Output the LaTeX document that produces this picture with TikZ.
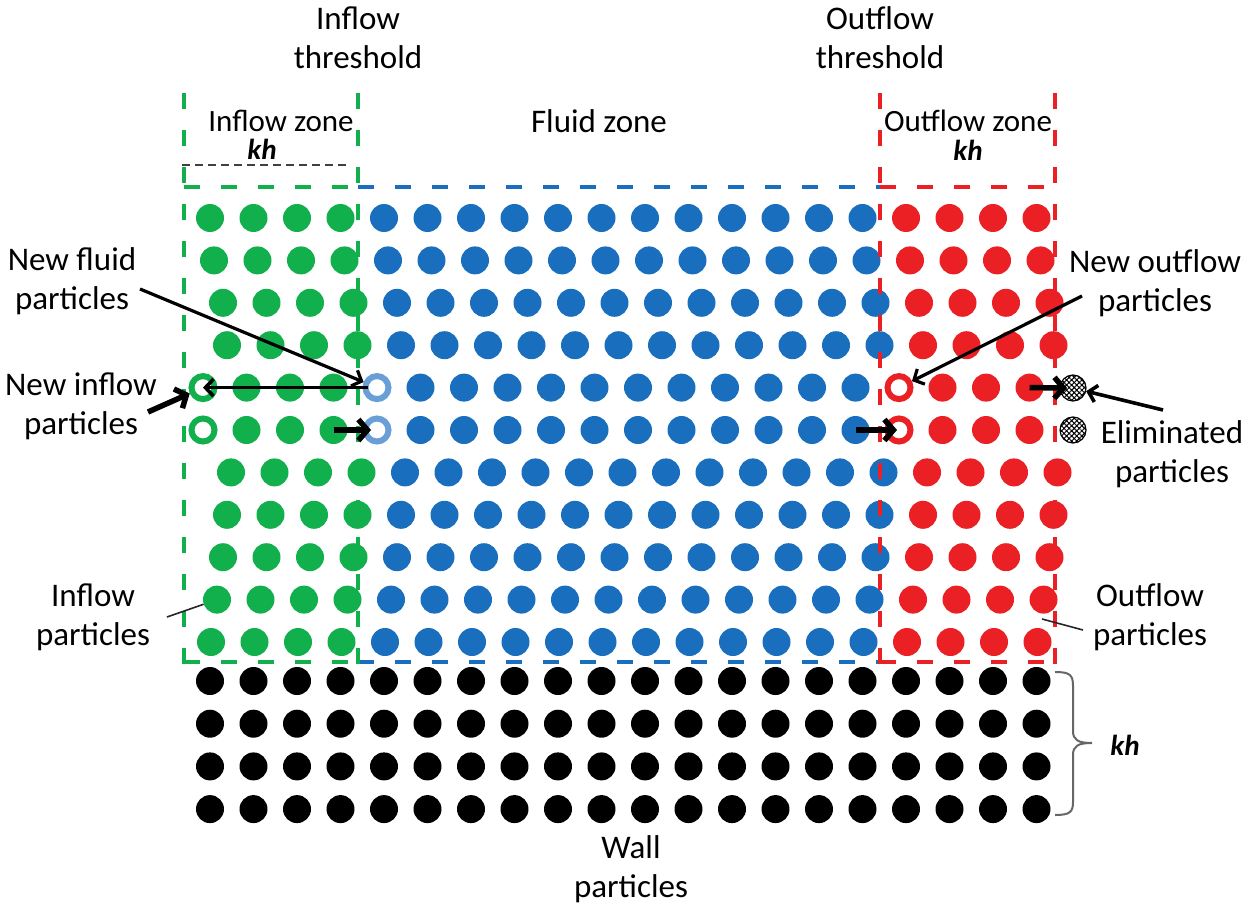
\documentclass[tikz,border=0pt]{standalone}
\usepackage{fontspec}
\setmainfont{Carlito}
\usetikzlibrary{arrows.meta,patterns.meta}
\definecolor{gz}{RGB}{18,176,76}
\definecolor{bz}{RGB}{26,110,190}
\definecolor{rz}{RGB}{234,32,36}
\definecolor{lb}{RGB}{105,158,215}
\begin{document}
\begin{tikzpicture}[x=1pt,y=-1pt,
  part/.style={circle,inner sep=0pt,minimum size=28pt},
  gp/.style={part,fill=gz},
  bp/.style={part,fill=bz},
  rp/.style={part,fill=rz},
  wp/.style={part,fill=black},
  hollow/.style={circle,inner sep=0pt,minimum size=23pt,line width=6pt,fill=white},
  gh/.style={hollow,draw=gz},
  bh/.style={hollow,draw=lb},
  rh/.style={hollow,draw=rz},
  elimp/.style={circle,inner sep=0pt,minimum size=26pt,draw=black,line width=1.2pt,
    pattern={Hatch[angle=45,distance=3.6pt,line width=1pt]},pattern color=black},
  lab/.style={align=center,inner sep=0pt,font=\fontsize{33}{39}\selectfont},
  zlab/.style={align=center,inner sep=0pt,font=\fontsize{31}{37}\selectfont},
  khs/.style={inner sep=0pt,font=\fontsize{29}{33}\selectfont\bfseries\itshape},
  zone/.style={line width=3.5pt,dash pattern=on 16pt off 21pt},
  thinarr/.style={line width=3.2pt,-{Straight Barb[length=8pt,width=17pt]}},
  midarr/.style={line width=3.6pt,-{Straight Barb[length=8pt,width=17pt]}},
  thickarr/.style={line width=5.5pt,-{Straight Barb[length=9pt,width=21pt]}},
  leader/.style={line width=1.6pt,black!85},
  brc/.style={line width=2pt,black!60}
]
\useasboundingbox (0,0) rectangle (1250,912);

% fluid / inflow / outflow particles
\foreach \r/\dx in {1/0,2/4,3/13,4/17,5/-7,6/-7,7/21,8/17,9/13,10/7,11/1}{
  \foreach \c in {0,...,19}{
    \ifnum\c<4 \def\st{gp}\else\ifnum\c<16 \def\st{bp}\else\def\st{rp}\fi\fi
    \ifnum\r>4 \ifnum\r<7
      \ifnum\c=0 \def\st{gh}\fi
      \ifnum\c=4 \def\st{bh}\fi
      \ifnum\c=16 \def\st{rh}\fi
    \fi\fi
    \node[\st] (p-\r-\c) at ({210+43.5*\c+\dx},{218+42.4*(\r-1)}) {};
  }
}
% wall particles
\foreach \r in {0,...,3}{
  \foreach \c in {0,...,19}{
    \node[wp] (w-\r-\c) at ({210+43.5*\c},{681+42.7*\r}) {};
  }
}
% eliminated particles
\node[elimp] (e1) at (1073,388) {};
\node[elimp] (e2) at (1073,430) {};

% zone borders
\draw[zone,draw=bz] (358,187) -- (880,187);
\draw[zone,draw=bz] (358,662) -- (880,662);
\draw[zone,draw=gz] (184,93) -- (184,664);
\draw[zone,draw=gz] (358,93) -- (358,664);
\draw[zone,draw=gz] (184,187) -- (358,187);
\draw[zone,draw=gz] (184,662) -- (358,662);
\draw[zone,draw=rz] (880,93) -- (880,664);
\draw[zone,draw=rz] (1055,93) -- (1055,664);
\draw[zone,draw=rz] (880,187) -- (1055,187);
\draw[zone,draw=rz] (880,662) -- (1055,662);
\draw[line width=1.5pt,black!75,dash pattern=on 8pt off 5pt] (182,165) -- (346,165);

% labels
\node[lab] (ith) at (358,38) {Inflow\\threshold};
\node[lab] (oth) at (880,38) {Outflow\\threshold};
\node[zlab] (izl) at (281,121) {Inflow zone};
\node[khs] (kh1) at (262,149) {kh};
\node[lab] (fzl) at (599,121) {Fluid zone};
\node[zlab] (ozl) at (968,121) {Outflow zone};
\node[khs] (kh2) at (968,150) {kh};
\node[lab] (nfp) at (72,281) {New fluid\\particles};
\node[lab] (nip) at (81,406) {New inflow\\particles};
\node[lab] (nop) at (1155,283) {New outflow\\particles};
\node[lab] (elim) at (1172,454) {Eliminated\\particles};
\node[lab] (ipl) at (93,617) {Inflow\\particles};
\node[lab] (opl) at (1150,617) {Outflow\\particles};
\node[khs] (kh3) at (1125,745) {kh};
\node[lab] (wpl) at (631,869) {Wall\\particles};

% free ends of connectors
\coordinate (t-nfp) at (140,289);
\coordinate (t-nip) at (148,412);
\coordinate (t-nop) at (1082,296);
\coordinate (t-elim) at (1163,410);
\coordinate (t-ipl) at (167,617);
\coordinate (t-opa) at (1042,619);
\coordinate (t-opb) at (1083,630);

% connectors
\draw[thinarr] (t-nfp) -- (p-5-4);
\draw[midarr] ([xshift=-9pt]p-5-4.center) -- (p-5-0.center);
\draw[thickarr] (t-nip) -- (p-5-0);
\draw[thickarr] (p-6-3.center) -- ([xshift=-6pt]p-6-4.center);
\draw[thinarr] (t-nop) -- (p-5-16);
\draw[thickarr] (p-6-15.center) -- ([xshift=-2pt]p-6-16.center);
\draw[thickarr] (p-5-19.center) -- ([xshift=-6pt]e1.center);
\draw[midarr] (t-elim) -- (e1);
\draw[leader] (t-ipl) -- (p-10-0);
\draw[leader] (t-opa) -- (t-opb);

% brace
\draw[brc] (1055,672) .. controls (1070,672) and (1073,675) .. (1073,686) -- (1073,731)
  .. controls (1073,740) and (1078,743) .. (1092,743)
  .. controls (1078,743) and (1073,746) .. (1073,755) -- (1073,802)
  .. controls (1073,812) and (1070,815) .. (1055,815);
\end{tikzpicture}
\end{document}
